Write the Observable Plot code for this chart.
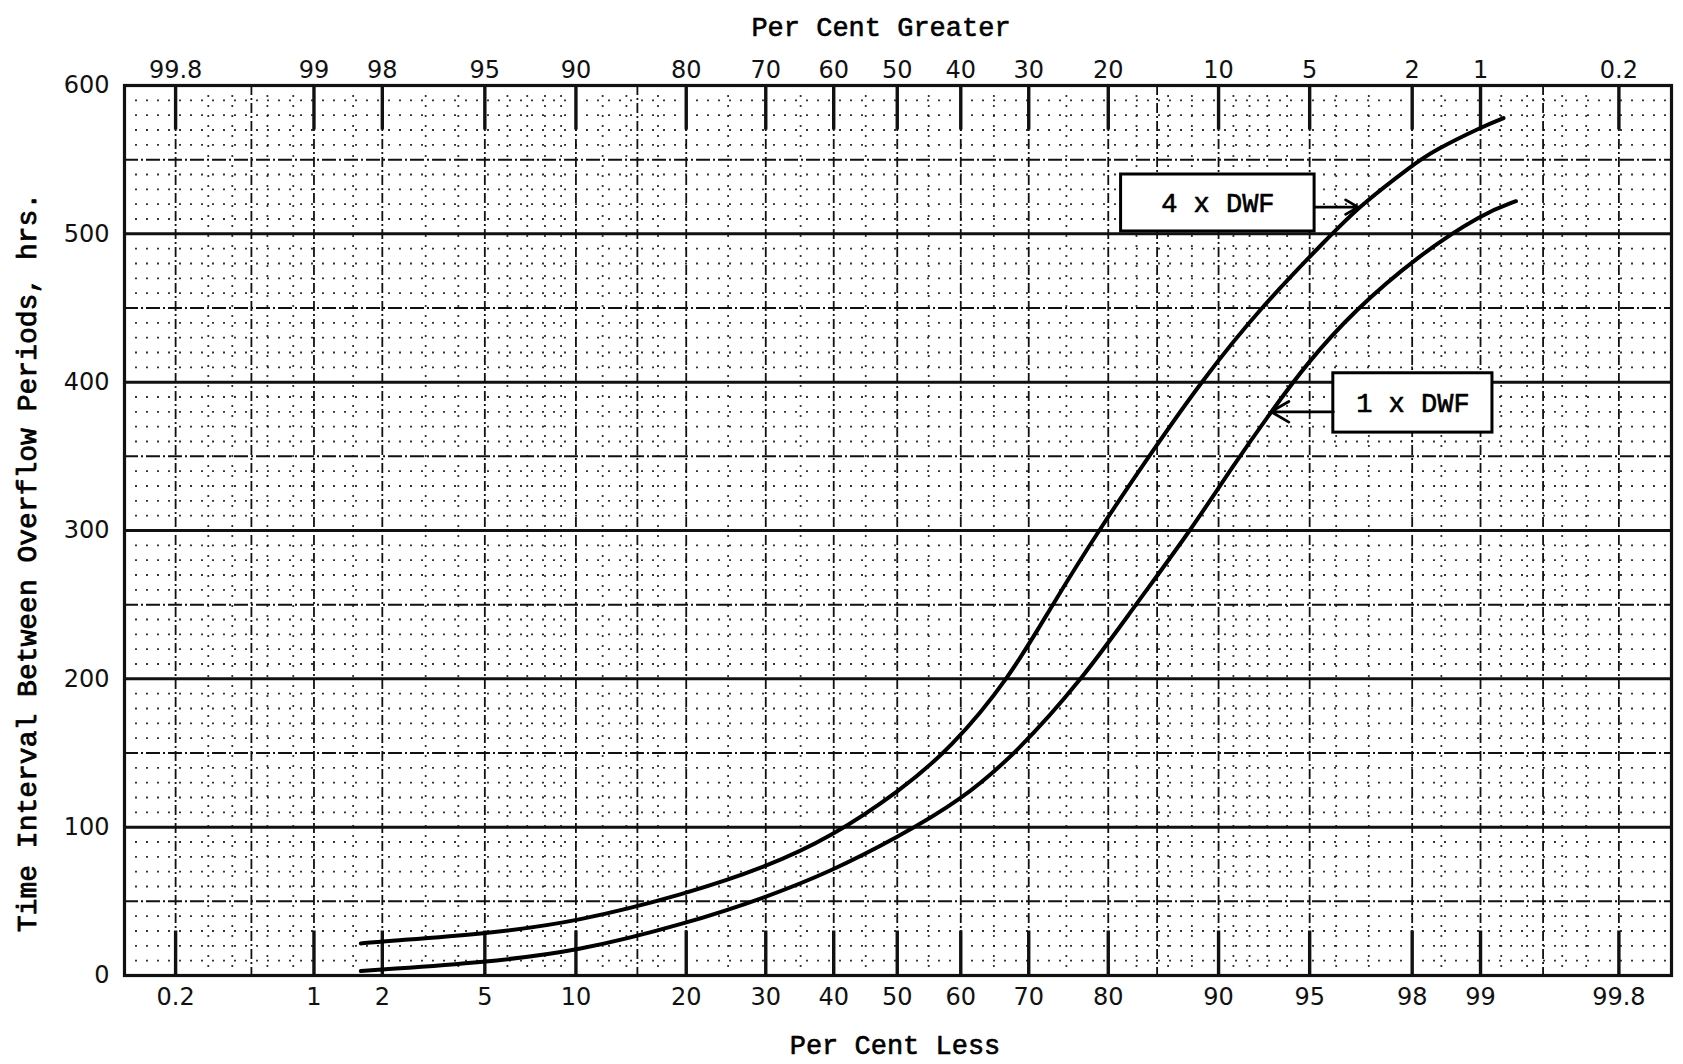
<!DOCTYPE html>
<html>
<head>
<meta charset="utf-8">
<script src="https://cdn.jsdelivr.net/npm/d3@7"></script>
<script src="https://cdn.jsdelivr.net/npm/@observablehq/plot@0.6"></script>
<style>
  html, body { margin: 0; padding: 0; background: #fff; }
  #chart svg { display: block; }
</style>
</head>
<body>
<div id="chart"></div>
<script>
// Interval between overflow periods, plotted on normal-probability paper.
// "Per Cent Less" runs along the bottom, its complement along the top.

// 4 x DWF curve
const pctLess4 = [1.62, 2, 5, 10, 20, 30, 39.5, 50.6, 58.4, 67.2, 73.2, 78.9, 84.7, 88.7, 92.6, 95.8, 96.7, 98.03, 98.38, 99.01, 99.22];
const hours4   = [21.6, 23, 28, 36, 55, 73, 93, 125, 153, 200, 250, 300, 355, 400, 450, 499, 518, 547, 556, 572, 578];

// 1 x DWF curve
const pctLess1 = [1.62, 2, 5, 10, 20, 30, 39.5, 50, 60, 68.3, 77.0, 82.7, 87.9, 91.0, 93.2, 94.9, 96.57, 98.1, 99.03, 99.32];
const hours1   = [3, 4, 9, 16, 35, 52.6, 70, 93, 118, 150, 200, 248, 300, 344, 380, 413, 448, 485, 514, 522];

// Axis ticks
const pctLessTicks = [0.2, 1, 2, 5, 10, 20, 30, 40, 50, 60, 70, 80, 90, 95, 98, 99, 99.8];
const pctLessLabels = ["0.2", "1", "2", "5", "10", "20", "30", "40", "50", "60", "70", "80", "90", "95", "98", "99", "99.8"];
const pctGreaterLabels = ["99.8", "99", "98", "95", "90", "80", "70", "60", "50", "40", "30", "20", "10", "5", "2", "1", "0.2"];
const hourTicks = [0, 100, 200, 300, 400, 500, 600];

// Probability-paper rulings (per cent less)
const rulingMajor = [0.2, 0.5, 1, 2, 5, 10, 15, 20, 30, 40, 50, 60, 70, 80, 85, 90, 95, 98, 99, 99.5, 99.8];
const rulingMinor = [0.3, 0.4, 0.6, 0.8, 1.5, 3, 4, 6, 7, 8, 9, 12, 14, 17, 25, 35, 45, 55, 65, 75, 83, 86, 88, 91, 92, 93, 94, 96, 97, 98.5, 99.2, 99.4, 99.6, 99.7];
const hourRulings = d3.range(0, 601, 10);

// Curve labels
const curveNames = ["4 x DWF", "1 x DWF"];
const boxPct = [[81.4, 95.2], [95.9, 99.12]];
const boxHours = [[501.6, 540], [366, 406]];
const arrowFromPct = [95.2, 95.9];
const arrowToPct = [96.7, 93.2];
const arrowHours = [518, 380];

// Inverse of the standard normal CDF (Acklam's rational approximation)
function probit(p) {
  const a = [-3.969683028665376e+01, 2.209460984245205e+02, -2.759285104469687e+02, 1.383577518672690e+02, -3.066479806614716e+01, 2.506628277459239e+00];
  const b = [-5.447609879822406e+01, 1.615858368580409e+02, -1.556989798598866e+02, 6.680131188771972e+01, -1.328068155288572e+01];
  const c = [-7.784894002430293e-03, -3.223964580411365e-01, -2.400758277161838e+00, -2.549732539343734e+00, 4.374664141464968e+00, 2.938163982698783e+00];
  const d = [7.784695709041462e-03, 3.224671290700398e-01, 2.445134137142996e+00, 3.754408661907416e+00];
  const lo = 0.02425, hi = 1 - lo;
  if (p < lo) {
    const q = Math.sqrt(-2 * Math.log(p));
    return (((((c[0]*q+c[1])*q+c[2])*q+c[3])*q+c[4])*q+c[5]) / ((((d[0]*q+d[1])*q+d[2])*q+d[3])*q+1);
  }
  if (p <= hi) {
    const q = p - 0.5, r = q * q;
    return (((((a[0]*r+a[1])*r+a[2])*r+a[3])*r+a[4])*r+a[5])*q / (((((b[0]*r+b[1])*r+b[2])*r+b[3])*r+b[4])*r+1);
  }
  const q = Math.sqrt(-2 * Math.log(1 - p));
  return -(((((c[0]*q+c[1])*q+c[2])*q+c[3])*q+c[4])*q+c[5]) / ((((d[0]*q+d[1])*q+d[2])*q+d[3])*q+1);
}
const zOf = pct => probit(pct / 100);

const curves = [
  ...pctLess4.map((p, i) => ({series: "4 x DWF", p, h: hours4[i]})),
  ...pctLess1.map((p, i) => ({series: "1 x DWF", p, h: hours1[i]}))
];
const boxes = curveNames.map((name, i) => ({
  name, p1: boxPct[i][0], p2: boxPct[i][1], h1: boxHours[i][0], h2: boxHours[i][1]
}));
const arrows = curveNames.map((name, i) => ({from: arrowFromPct[i], to: arrowToPct[i], h: arrowHours[i]}));

const zTicks = pctLessTicks.map(zOf);
const bottomLabel = new Map(zTicks.map((z, i) => [z, pctLessLabels[i]]));
const topLabel = new Map(zTicks.map((z, i) => [z, pctGreaterLabels[i]]));

const mono = "'Liberation Mono', 'DejaVu Sans Mono', monospace";
const ink = "#111";
const typed = {fontFamily: mono, fill: "#000", stroke: "#000", strokeWidth: 0.6, lineAnchor: "middle", textAnchor: "middle"};

const chart = Plot.plot({
  width: 1683,
  height: 1064,
  marginLeft: 124,
  marginRight: 12,
  marginTop: 85,
  marginBottom: 89,
  style: {fontFamily: "'DejaVu Sans', sans-serif", fontSize: "24px", color: ink, background: "#fff"},
  x: {domain: [-3.082, 3.088]},
  y: {domain: [0, 600]},
  marks: [
    // horizontal rulings: dotted every 10, dash-dot every 50, solid every 100
    Plot.ruleY(hourRulings.filter(h => h % 50 !== 0), {stroke: ink, strokeWidth: 1.8, strokeDasharray: "2,9", strokeOpacity: 0.85}),
    Plot.ruleY(hourRulings.filter(h => h % 50 === 0 && h % 100 !== 0), {stroke: ink, strokeWidth: 2, strokeDasharray: "14,3,2,3"}),
    Plot.ruleY(hourRulings.filter(h => h % 100 === 0), {stroke: ink, strokeWidth: 3}),
    // vertical rulings
    Plot.ruleX(rulingMinor, {x: zOf, stroke: ink, strokeWidth: 1.8, strokeDasharray: "2,8", strokeOpacity: 0.85}),
    Plot.ruleX(rulingMajor, {x: zOf, stroke: ink, strokeWidth: 1.8, strokeDasharray: "10,3,2,3"}),
    // heavy tick bars at the labelled percentages
    Plot.ruleX(pctLessTicks, {x: zOf, y1: 570, y2: 600, stroke: ink, strokeWidth: 3.4}),
    Plot.ruleX(pctLessTicks, {x: zOf, y1: 0, y2: 30, stroke: ink, strokeWidth: 3.4}),
    Plot.frame({stroke: ink, strokeWidth: 3.2}),
    // curves
    Plot.line(curves, {x: d => zOf(d.p), y: "h", z: "series", curve: "basis", stroke: "#000", strokeWidth: 4}),
    // labels for the curves
    Plot.rect(boxes, {x1: d => zOf(d.p1), x2: d => zOf(d.p2), y1: "h1", y2: "h2", fill: "#fff", stroke: "#000", strokeWidth: 3}),
    Plot.text(boxes, {...typed, x: d => (zOf(d.p1) + zOf(d.p2)) / 2, y: d => (d.h1 + d.h2) / 2, text: "name", fontSize: 27}),
    Plot.arrow(arrows, {x1: d => zOf(d.from), x2: d => zOf(d.to), y1: "h", y2: "h", stroke: "#000", strokeWidth: 2.8, headLength: 11}),
    // axes
    Plot.axisX(zTicks, {anchor: "bottom", tickSize: 0, tickPadding: 12, tickFormat: z => bottomLabel.get(z), fontSize: 24, label: null}),
    Plot.axisX(zTicks, {anchor: "top", tickSize: 0, tickPadding: 8, tickFormat: z => topLabel.get(z), fontSize: 24, label: null}),
    Plot.axisY(hourTicks, {anchor: "left", tickSize: 0, tickPadding: 15, fontSize: 24, label: null}),
    // axis titles
    Plot.text(["Per Cent Greater"], {...typed, frameAnchor: "top", dx: -17, dy: -58, fontSize: 27}),
    Plot.text(["Per Cent Less"], {...typed, frameAnchor: "bottom", dx: -3, dy: 70, fontSize: 27}),
    Plot.text(["Time Interval Between Overflow Periods, hrs."], {...typed, frameAnchor: "left", rotate: -90, dx: -97, dy: 32, fontSize: 28, strokeWidth: 0.8})
  ]
});
document.getElementById("chart").append(chart);
</script>
</body>
</html>
